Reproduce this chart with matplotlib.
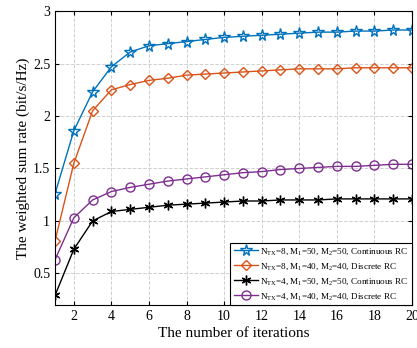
import matplotlib
matplotlib.use("Agg")
import matplotlib.pyplot as plt

plt.rcParams["font.family"] = ["Liberation Serif", "DejaVu Serif"]
plt.rcParams["mathtext.fontset"] = "custom"
plt.rcParams["mathtext.rm"] = "Liberation Serif"
plt.rcParams["mathtext.it"] = "Liberation Serif:italic"

iterations = list(range(1, 21))

rate_8_50_cont = [1.26, 1.86, 2.23, 2.47, 2.61, 2.67, 2.69, 2.71, 2.73, 2.75,
                  2.76, 2.77, 2.78, 2.79, 2.80, 2.80, 2.81, 2.81, 2.82, 2.82]
rate_8_40_disc = [0.81, 1.55, 2.05, 2.25, 2.30, 2.34, 2.36, 2.39, 2.40, 2.41,
                  2.42, 2.43, 2.44, 2.45, 2.45, 2.45, 2.46, 2.46, 2.46, 2.46]
rate_4_50_cont = [0.29, 0.73, 1.00, 1.09, 1.11, 1.13, 1.15, 1.16, 1.17, 1.18,
                  1.19, 1.19, 1.20, 1.20, 1.20, 1.21, 1.21, 1.21, 1.21, 1.21]
rate_4_40_disc = [0.63, 1.03, 1.20, 1.28, 1.32, 1.35, 1.38, 1.40, 1.42, 1.44,
                  1.46, 1.47, 1.49, 1.50, 1.51, 1.52, 1.52, 1.53, 1.54, 1.54]

labels = [
    r"N$_{\rm TX}$=8, M$_1$=50, M$_2$=50, Continuous RC",
    r"N$_{\rm TX}$=8, M$_1$=40, M$_2$=40, Discrete RC",
    r"N$_{\rm TX}$=4, M$_1$=50, M$_2$=50, Continuous RC",
    r"N$_{\rm TX}$=4, M$_1$=40, M$_2$=40, Discrete RC",
]

fig = plt.figure(figsize=(4.17, 3.48), dpi=100)
ax = fig.add_axes([0.132, 0.124, 0.856, 0.844])

ax.plot(iterations, rate_8_50_cont, color="#0072BD", lw=1.0, marker="*",
        ms=8.5, mfc="none", mew=1.0, label=labels[0])
ax.plot(iterations, rate_8_40_disc, color="#D95319", lw=1.0, marker="D",
        ms=5.5, mfc="none", mew=1.0, label=labels[1])
ax.plot(iterations, rate_4_50_cont, color="black", lw=1.0, marker=(6, 2, 0),
        ms=7, mew=1.0, label=labels[2])
ax.plot(iterations, rate_4_40_disc, color="#7E2F8E", lw=1.0, marker="o",
        ms=6.5, mfc="none", mew=1.0, label=labels[3])

ax.set_xlim(1, 20)
ax.set_ylim(0.2, 3)
ax.set_xticks(range(2, 21, 2))
ax.set_yticks([0.5, 1, 1.5, 2, 2.5, 3])
ax.set_yticklabels(["0.5", "1", "1.5", "2", "2.5", "3"])
ax.tick_params(direction="in", top=True, right=True, labelsize=10, length=3)
ax.grid(True, ls="--", color="#d0d0d0", lw=0.7)
for s in ax.spines.values():
    s.set_linewidth(0.8)

ax.set_xlabel("The number of iterations", fontsize=11, labelpad=3)
ax.set_ylabel("The weighted sum rate (bit/s/Hz)", fontsize=11, labelpad=2)

leg = ax.legend(loc="lower right", fontsize=6.6, frameon=True, fancybox=False,
                edgecolor="black", framealpha=1, borderaxespad=0.0,
                handlelength=2.7, labelspacing=0.5, borderpad=0.35,
                handletextpad=0.2)
leg.get_frame().set_linewidth(0.8)

fig.savefig("out.png", dpi=100)
